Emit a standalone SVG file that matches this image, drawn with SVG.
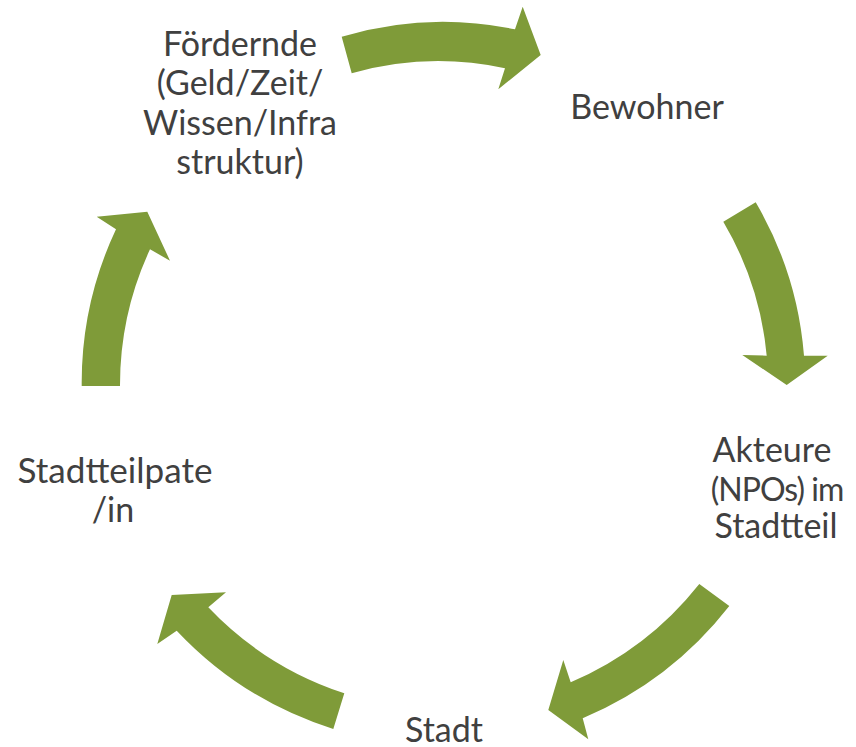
<svg xmlns="http://www.w3.org/2000/svg" width="856" height="747" viewBox="0 0 856 747">
<style>
.arrow{fill:#7F9B39;stroke:none}
.lbl{font-family:"Lato","Open Sans",sans-serif;font-size:34px;fill:#404040;text-anchor:middle}
</style>
<rect width="856" height="747" fill="#ffffff"/>
<g id="connectors">
<path class="arrow" d="M341.7,36.7 A356,356 0 0 1 515,29.3 L522.7,6.7 L540.7,55 L498.3,89.3 L505,68.3 A318,318 0 0 0 351.7,73.3 Z"/>
<path class="arrow" d="M755.7,202.3 A360,360 0 0 1 804,355.7 L827.7,355.7 L786.7,385 L742.3,355 L766.7,355.7 A323,323 0 0 0 723.3,221.7 Z"/>
<path class="arrow" d="M729.3,606 A367,367 0 0 1 582.7,718.3 L588.3,739.3 L548.3,710 L563.3,660 L570.7,682.3 A329,329 0 0 0 699.3,584 Z"/>
<path class="arrow" d="M333.3,729 A367,367 0 0 1 176.7,630.7 L157.3,644 L171.7,595 L226,592.3 L208.3,607.3 A329,329 0 0 0 344.3,693.3 Z"/>
<path class="arrow" d="M81.7,386 A360,360 0 0 1 116,229.3 L96.7,216.7 L147.3,211.7 L170,260.7 L150,249.3 A322,322 0 0 0 120,386 Z"/>
</g>
<g id="node-foerdernde">
<text class="lbl" x="240" y="56">Fördernde</text>
<text class="lbl" x="240" y="95.3">(Geld/Zeit/</text>
<text class="lbl" x="240" y="134.6">Wissen/Infra</text>
<text class="lbl" x="240" y="174">struktur)</text>
</g>
<g id="node-bewohner">
<text class="lbl" x="647" y="119.3">Bewohner</text>
</g>
<g id="node-akteure">
<text class="lbl" x="772" y="462.3">Akteure</text>
<text class="lbl" x="777" y="501" style="font-size:32px;letter-spacing:-1px">(NPOs) im</text>
<text class="lbl" x="776" y="538.3">Stadtteil</text>
</g>
<g id="node-stadt">
<text class="lbl" x="444" y="741.5">Stadt</text>
</g>
<g id="node-stadtteilpate">
<text class="lbl" x="115" y="483.3" textLength="195" lengthAdjust="spacingAndGlyphs">Stadtteilpate</text>
<text class="lbl" x="113" y="521.7">/in</text>
</g>
</svg>
